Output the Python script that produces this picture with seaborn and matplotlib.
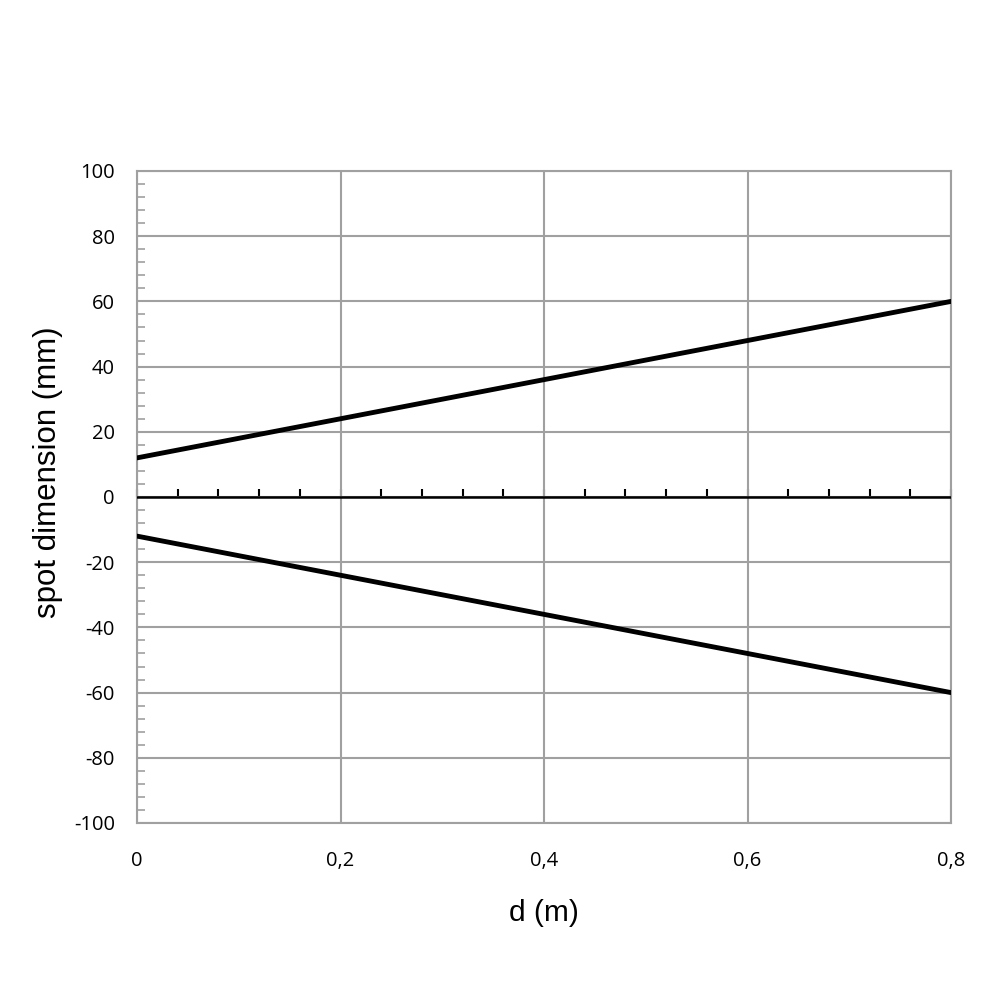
import matplotlib
matplotlib.use("Agg")
import matplotlib.pyplot as plt
import seaborn as sns
import numpy as np
import pandas as pd
from matplotlib.ticker import MultipleLocator, FuncFormatter, NullFormatter

# Data
d_values = [0.0, 0.8]
upper_spot = [12, 60]
lower_spot = [-12, -60]
x_ticks = [0, 0.2, 0.4, 0.6, 0.8]
y_ticks = [-100, -80, -60, -40, -20, 0, 20, 40, 60, 80, 100]

df = pd.DataFrame({
    "d": d_values * 2,
    "spot": upper_spot + lower_spot,
    "edge": ["upper"] * 2 + ["lower"] * 2,
})

sns.set_theme(style="white")
plt.rcParams['font.family'] = ['Open Sans', 'DejaVu Sans']
plt.rcParams['text.color'] = 'black'
plt.rcParams['axes.labelcolor'] = 'black'

fig = plt.figure(figsize=(10, 10), dpi=100)
ax = fig.add_axes([0.137, 0.177, 0.814, 0.652])

sns.lineplot(data=df, x="d", y="spot", units="edge", estimator=None,
             color="black", linewidth=3.5, ax=ax, legend=False, zorder=5)

ax.set_xlim(0, 0.8)
ax.set_ylim(-100, 100)
ax.set_xticks(x_ticks)
ax.set_yticks(y_ticks)
ax.xaxis.set_major_formatter(FuncFormatter(lambda v, p: ("%g" % v).replace(".", ",")))
ax.yaxis.set_major_formatter(FuncFormatter(lambda v, p: "%d" % round(v)))
ax.grid(True, color="#a0a0a0", linewidth=1.5)
ax.set_axisbelow(True)

for s in ["left", "right", "top", "bottom"]:
    ax.spines[s].set_visible(True)
    ax.spines[s].set_color("#a0a0a0")
    ax.spines[s].set_linewidth(1.5)

ax.tick_params(axis="x", which="major", length=0, labelsize=14.5, pad=20, colors="black")
ax.tick_params(axis="y", which="major", length=0, labelsize=14.5, pad=16, colors="black")
ax.yaxis.set_minor_locator(MultipleLocator(4))
ax.tick_params(axis="y", which="minor", direction="in", length=6, width=1.2,
               color="#a0a0a0", left=True)

# Horizontal axis line crossing at zero
ax.axhline(0, color="black", linewidth=1.8, zorder=4)
sec = ax.secondary_xaxis(0.5)
sec.spines["bottom"].set_color("black")
sec.spines["bottom"].set_linewidth(1.8)
sec.set_xticks(x_ticks)
sec.xaxis.set_minor_locator(MultipleLocator(0.04))
sec.xaxis.set_major_formatter(NullFormatter())
sec.tick_params(axis="x", which="both", direction="out", length=6, width=1.5,
                color="black", labelbottom=False)

ax.set_xlabel("d (m)", fontsize=21.5, family=["Liberation Sans", "DejaVu Sans"],
              labelpad=20, color="black")
ax.set_ylabel("spot dimension (mm)", fontsize=22.5, family=["Liberation Sans", "DejaVu Sans"],
              color="black")
ax.yaxis.set_label_coords(-0.091, 0.538)

fig.savefig("out.png", dpi=100)
